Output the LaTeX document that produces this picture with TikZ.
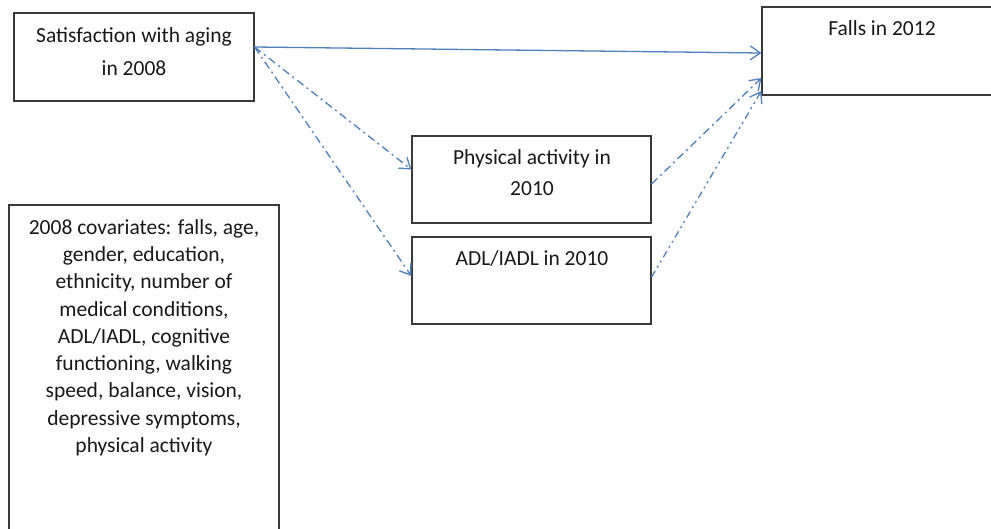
\documentclass[tikz,border=0pt]{standalone}
\usepackage{fontspec}
\setmainfont{Carlito}
\usetikzlibrary{arrows.meta}
\definecolor{arrowblue}{HTML}{4F81BD}
\definecolor{boxgray}{HTML}{3A3A3A}
\tikzset{
  box/.style={draw=boxgray, line width=1.2pt, rectangle, inner sep=0pt},
  txt/.style={font=\fontsize{21.5}{31}\selectfont, align=center, inner sep=0pt, text=black!90},
  conn/.style={draw=arrowblue, line width=1.3pt, -{Straight Barb[length=10pt,width=14pt,line width=1.3pt]}},
  dashdot/.style={dash pattern=on 8pt off 4pt on 2pt off 4pt},
  dashdotdot/.style={dash pattern=on 7pt off 4pt on 2pt off 4pt on 2pt off 4pt},
}
\begin{document}
\begin{tikzpicture}[x=1pt,y=-1pt]
\clip (0,0) rectangle (991,528);
\fill[white] (0,0) rectangle (991,528);
% boxes
\node[box, minimum width=240pt, minimum height=88pt] (sat) at (134,57) {};
\node[box, minimum width=250pt, minimum height=88pt] (falls) at (887,51) {};
\node[box, minimum width=239pt, minimum height=87pt] (phys) at (531.5,179.5) {};
\node[box, minimum width=239pt, minimum height=87pt] (adl) at (531.5,280.5) {};
\node[box, minimum width=270pt, minimum height=340pt] (cov) at (144,375) {};
% texts
\node[txt, anchor=north, font=\fontsize{21.5}{33}\selectfont] (satT) at (134,27) {Satisfaction with aging\\in 2008};
\node[txt] (fallsT) at (882,28) {Falls in 2012};
\node[txt, anchor=north] (physT) at (532,149) {Physical activity in\\2010};
\node[txt] (adlT) at (532,258) {ADL/IADL in 2010};
\node[txt, anchor=north, font=\fontsize{21.5}{27.3}\selectfont] (covT) at (144,219) {2008 covariates: falls, age,\\gender, education,\\ethnicity, number of\\medical conditions,\\ADL/IADL, cognitive\\functioning, walking\\speed, balance, vision,\\depressive symptoms,\\physical activity};
% connector end points
\coordinate (s0) at ([yshift=10pt]sat.east);
\coordinate (f1) at ([yshift=-2pt]falls.west);
\coordinate (f2) at ([yshift=-27pt]falls.west);
\coordinate (f3) at ([yshift=-40pt]falls.west);
\coordinate (p1) at ([yshift=10pt]phys.west);
\coordinate (p2) at ([yshift=-4.5pt]phys.east);
\coordinate (a1) at ([yshift=4.5pt]adl.west);
\coordinate (a2) at ([yshift=3.5pt]adl.east);
% connectors
\draw[conn] (s0) -- (f1);
\draw[conn, dashdot] (s0) -- (p1);
\draw[conn, dashdot] (s0) -- (a1);
\draw[conn, dashdot] (p2) -- (f2);
\draw[conn, dashdotdot] (a2) -- (f3);
\end{tikzpicture}
\end{document}
